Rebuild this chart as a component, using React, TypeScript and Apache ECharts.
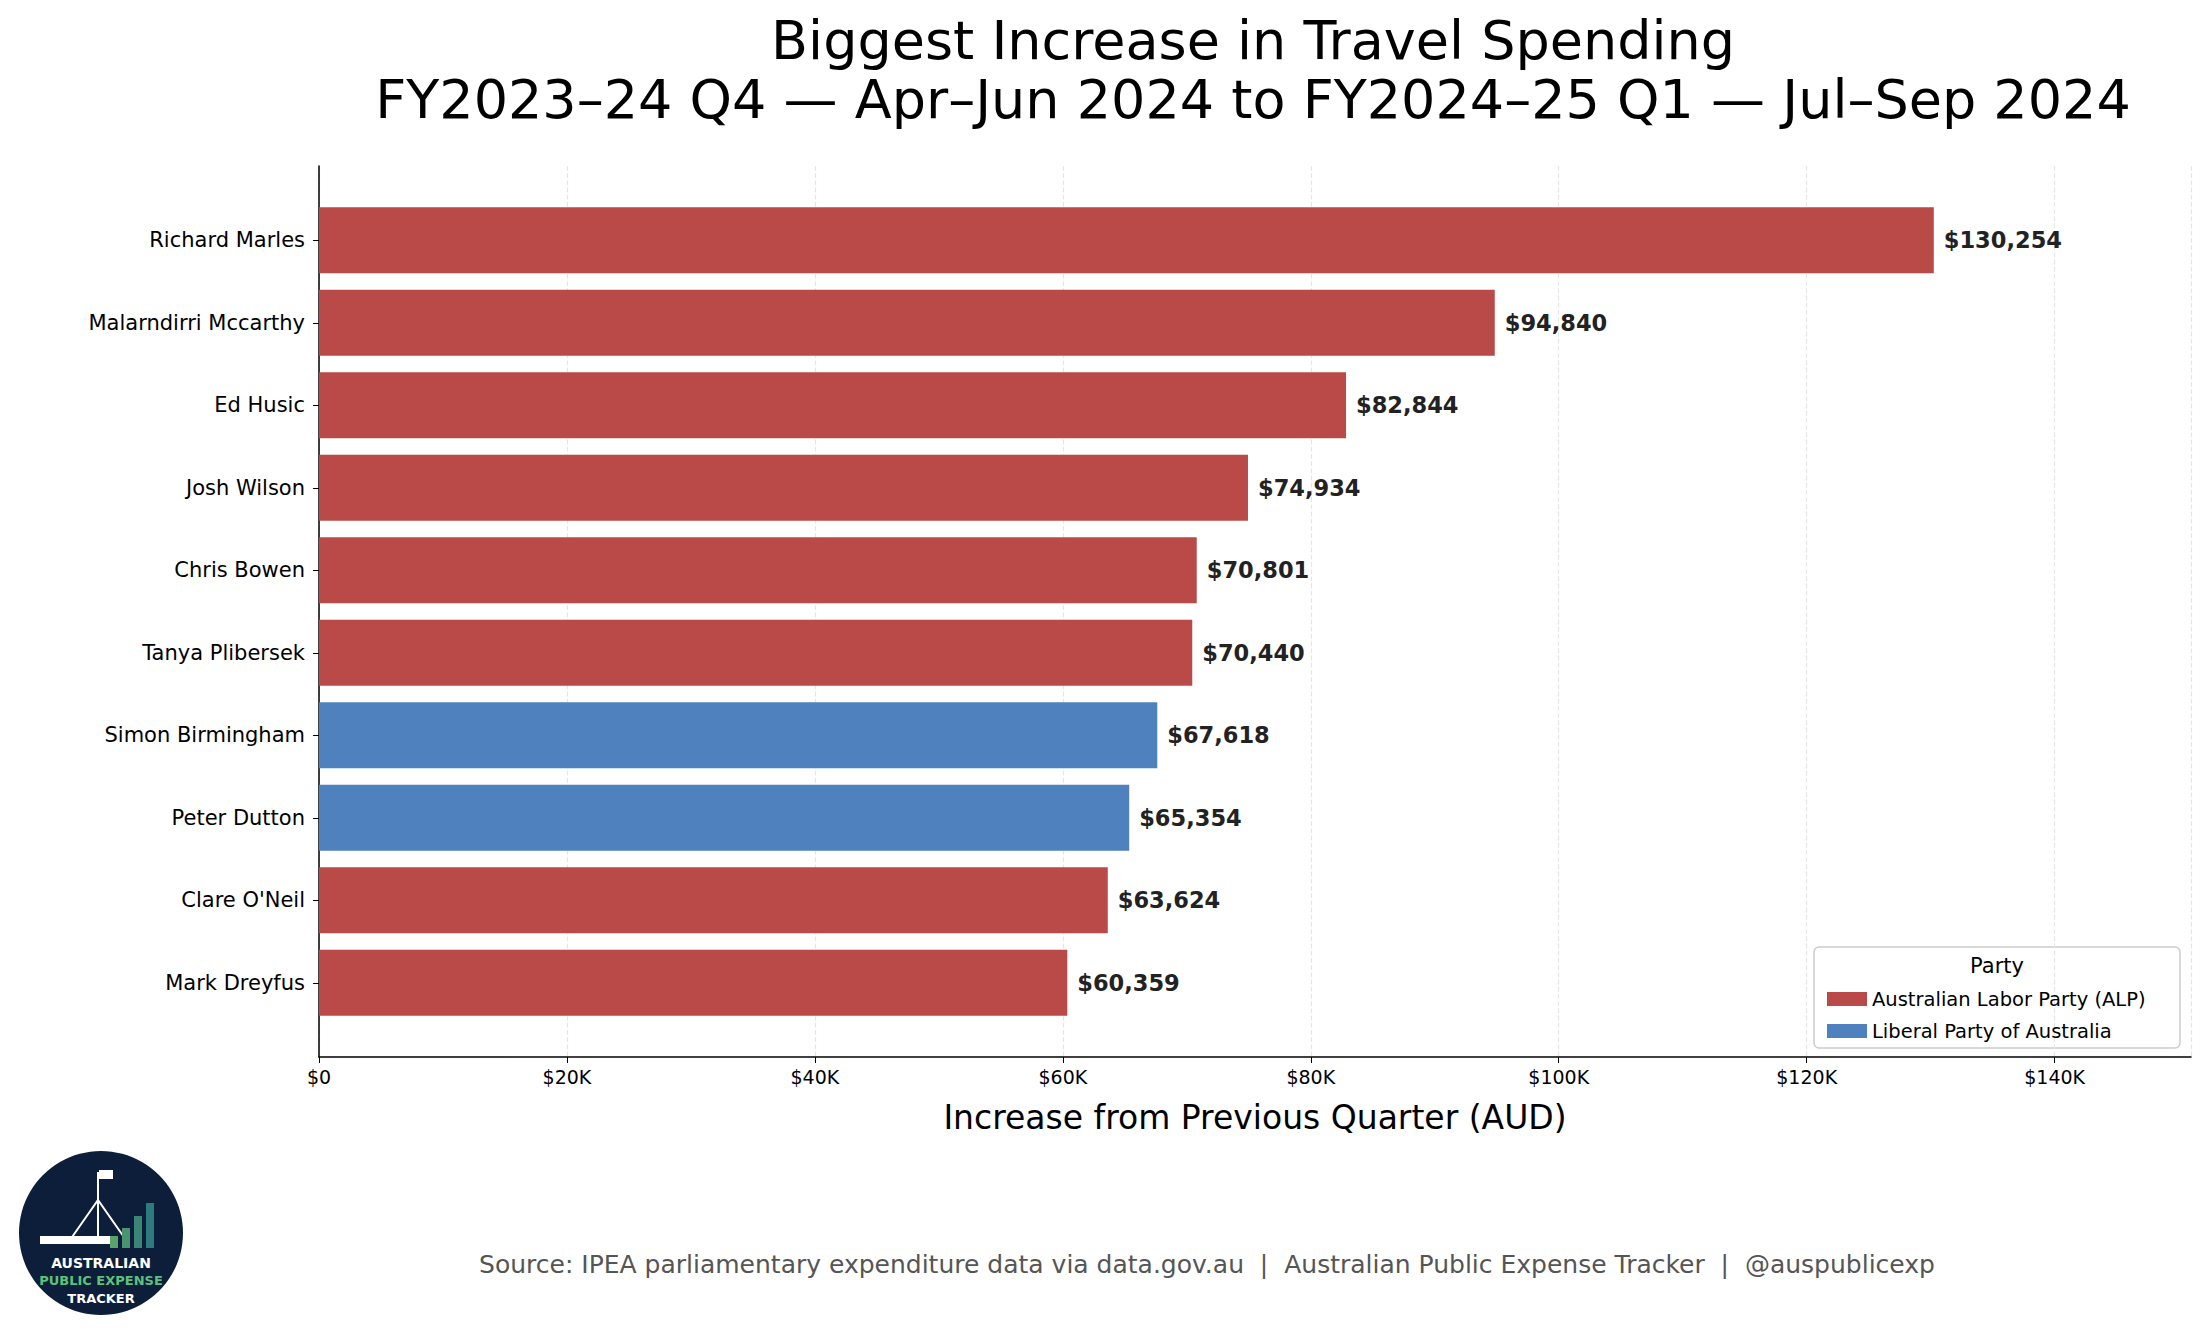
import React, { useEffect, useRef } from "react";
import * as echarts from "echarts";

const names = [
  "Richard Marles",
  "Malarndirri Mccarthy",
  "Ed Husic",
  "Josh Wilson",
  "Chris Bowen",
  "Tanya Plibersek",
  "Simon Birmingham",
  "Peter Dutton",
  "Clare O'Neil",
  "Mark Dreyfus",
];
const increases = [130254, 94840, 82844, 74934, 70801, 70440, 67618, 65354, 63624, 60359];
const parties = ["ALP", "ALP", "ALP", "ALP", "ALP", "ALP", "LIB", "LIB", "ALP", "ALP"];
const partyNames: Record<string, string> = {
  ALP: "Australian Labor Party (ALP)",
  LIB: "Liberal Party of Australia",
};
const partyColors: Record<string, string> = { ALP: "#b94a48", LIB: "#4e81bd" };

const X_MAX = 151000;
const FONT = "DejaVu Sans";

export default function App() {
  const ref = useRef<HTMLDivElement>(null);

  useEffect(() => {
    if (!ref.current) return;
    const chart = echarts.init(ref.current, undefined, { renderer: "svg" });

    const series = ["ALP", "LIB"].map((p) => ({
      name: partyNames[p],
      type: "bar" as const,
      xAxisIndex: 1,
      yAxisIndex: 1,
      barWidth: 66,
      barGap: "-100%",
      itemStyle: { color: partyColors[p] },
      data: increases.map((v, i) => (parties[i] === p ? v : null)),
      label: {
        show: true,
        position: "right" as const,
        distance: 10,
        fontFamily: FONT,
        fontWeight: "bold" as const,
        fontSize: 22.5,
        color: "#222",
        formatter: (d: any) => "$" + Number(d.value).toLocaleString("en-US"),
      },
    }));

    chart.setOption({
      animation: false,
      backgroundColor: "#fff",
      textStyle: { fontFamily: FONT },
      grid: [
        { left: 319, right: 14, top: 166, bottom: 280 },
        { left: 319, right: 14, top: 199, bottom: 313 },
      ],
      xAxis: [
        {
          gridIndex: 0,
          type: "value",
          min: 0,
          max: X_MAX,
          interval: 20000,
          name: "Increase from Previous Quarter (AUD)",
          nameLocation: "middle",
          nameGap: 44,
          nameTextStyle: { fontSize: 33, color: "#000", fontFamily: FONT },
          axisLine: { show: true, lineStyle: { color: "#000", width: 1.5 } },
          axisTick: { show: true, length: 6, lineStyle: { color: "#000" } },
          axisLabel: {
            fontSize: 19,
            color: "#000",
            margin: 10,
            showMaxLabel: false,
            formatter: (v: number) => (v === 0 ? "$0" : `$${v / 1000}K`),
          },
          splitLine: { show: true, lineStyle: { color: "#e6e6e6", type: "dashed", width: 1.2 } },
        },
        { gridIndex: 1, type: "value", min: 0, max: X_MAX, show: false },
      ],
      yAxis: [
        {
          gridIndex: 0,
          type: "value",
          min: 0,
          max: 1,
          axisLine: { show: true, lineStyle: { color: "#000", width: 1.5 } },
          axisTick: { show: false },
          axisLabel: { show: false },
          splitLine: { show: false },
        },
        {
          gridIndex: 1,
          type: "category",
          inverse: true,
          data: names,
          axisLine: { show: false },
          axisTick: { show: true, alignWithLabel: true, length: 6, lineStyle: { color: "#000" } },
          axisLabel: { fontSize: 21, color: "#000", margin: 14 },
        },
      ],
      legend: {
        orient: "vertical",
        left: 1822,
        top: 984,
        itemWidth: 40,
        itemHeight: 14,
        itemGap: 12,
        icon: "rect",
        textStyle: { fontSize: 19.5, color: "#000", fontFamily: FONT },
        data: [partyNames.ALP, partyNames.LIB],
      },
      graphic: [
        {
          type: "text",
          x: 1253,
          y: 40,
          style: {
            text: "Biggest Increase in Travel Spending",
            fontSize: 54,
            fill: "#000",
            fontFamily: FONT,
            textAlign: "center",
            textVerticalAlign: "middle",
          },
        },
        {
          type: "text",
          x: 1253,
          y: 99,
          style: {
            text: "FY2023–24 Q4 — Apr–Jun 2024 to FY2024–25 Q1 — Jul–Sep 2024",
            fontSize: 54,
            fill: "#000",
            fontFamily: FONT,
            textAlign: "center",
            textVerticalAlign: "middle",
          },
        },
        {
          type: "rect",
          shape: { x: 1814, y: 947, width: 366, height: 101, r: 5 },
          style: { fill: "rgba(255,255,255,0.8)", stroke: "#cccccc", lineWidth: 1.5 },
          z: -1,
        },
        {
          type: "text",
          x: 1997,
          y: 955,
          style: { text: "Party", fontSize: 21, fill: "#000", fontFamily: FONT, textAlign: "center" },
        },
        {
          type: "text",
          x: 1207,
          y: 1252,
          style: {
            text: "Source: IPEA parliamentary expenditure data via data.gov.au  |  Australian Public Expense Tracker  |  @auspublicexp",
            fontSize: 25,
            fill: "#555",
            fontFamily: FONT,
            textAlign: "center",
          },
        },
        // logo
        { type: "circle", shape: { cx: 101, cy: 1233, r: 82 }, style: { fill: "#0c1e3a" } },
        { type: "line", shape: { x1: 98, y1: 1172, x2: 98, y2: 1240 }, style: { stroke: "#fff", lineWidth: 2 } },
        { type: "rect", shape: { x: 99, y: 1170, width: 14, height: 9 }, style: { fill: "#fff" } },
        { type: "polyline", shape: { points: [[70, 1240], [98, 1200], [126, 1240]] }, style: { stroke: "#fff", fill: "none", lineWidth: 2 } },
        { type: "rect", shape: { x: 40, y: 1236, width: 70, height: 8 }, style: { fill: "#fff" } },
        { type: "rect", shape: { x: 110, y: 1236, width: 8, height: 12 }, style: { fill: "#5aa469" } },
        { type: "rect", shape: { x: 122, y: 1228, width: 8, height: 20 }, style: { fill: "#4a9470" } },
        { type: "rect", shape: { x: 134, y: 1216, width: 8, height: 32 }, style: { fill: "#3b8577" } },
        { type: "rect", shape: { x: 146, y: 1203, width: 8, height: 45 }, style: { fill: "#2e7a7e" } },
        { type: "text", x: 101, y: 1256, style: { text: "AUSTRALIAN", fontSize: 14, fontWeight: "bold", fill: "#fff", textAlign: "center", fontFamily: FONT } },
        { type: "text", x: 101, y: 1274, style: { text: "PUBLIC EXPENSE", fontSize: 13, fontWeight: "bold", fill: "#5cc27a", textAlign: "center", fontFamily: FONT } },
        { type: "text", x: 101, y: 1292, style: { text: "TRACKER", fontSize: 13, fontWeight: "bold", fill: "#fff", textAlign: "center", fontFamily: FONT } },
      ],
      series,
    });

    return () => chart.dispose();
  }, []);

  return <div ref={ref} style={{ width: 2205, height: 1337, margin: -8 }} />;
}
